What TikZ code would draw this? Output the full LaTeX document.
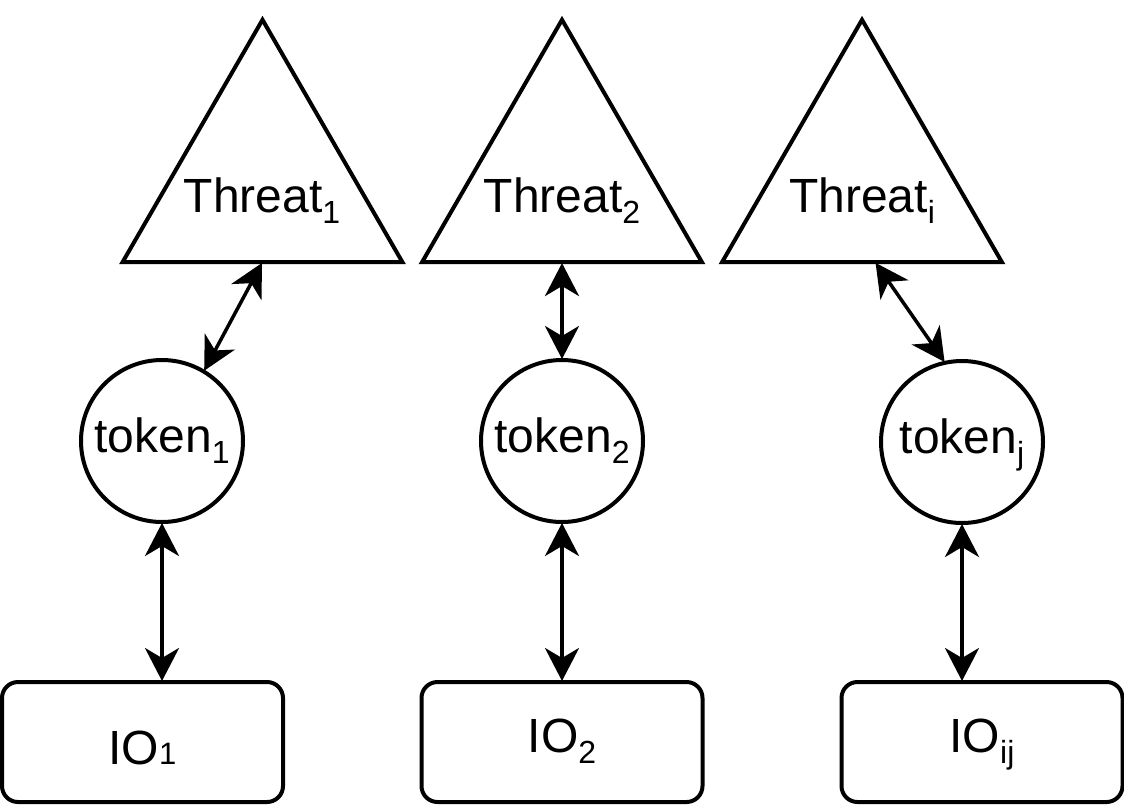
\documentclass[tikz,border=0pt]{standalone}
\usepackage{fontspec}
\setmainfont{Liberation Sans}
\usetikzlibrary{shapes.geometric,arrows.meta}
\newcommand\lowsub[1]{\raisebox{-11pt}{\fontsize{32}{32}\selectfont #1}}
\begin{document}
\begin{tikzpicture}[x=1pt,y=-1pt,line width=4pt,
  threat/.style={draw,regular polygon,regular polygon sides=3,minimum size=323pt,inner sep=0pt,outer sep=0pt},
  tok/.style={draw,circle,minimum size=162pt,inner sep=0pt,outer sep=0pt,text height=34pt,text depth=12pt,font=\fontsize{48}{56}\selectfont},
  iobox/.style={draw,rounded corners=16pt,minimum width=281pt,minimum height=120pt,inner sep=0pt,outer sep=0pt,font=\fontsize{48}{56}\selectfont},
  lbl/.style={font=\fontsize{48}{56}\selectfont,inner sep=0pt,anchor=base},
  tipS/.tip={Stealth[length=33pt,width=34pt,inset=10pt]},
  link/.style={line width=3.5pt,tipS-tipS,shorten <=1pt,shorten >=1pt}]
\useasboundingbox (0,0) rectangle (1124,804);
% threats
\node[threat] (th1) at (262.5,181.3) {};
\node[threat] (th2) at (562,181.3) {};
\node[threat] (th3) at (862,181.3) {};
\node[lbl] (th1l) at (262,212) {Threat\lowsub{1}};
\node[lbl] (th2l) at (562,212) {Threat\lowsub{2}};
\node[lbl] (th3l) at (862,212) {Threat\lowsub{i}};
% tokens
\node[tok] (k1) at (162,441) {token\lowsub{1}};
\node[tok] (k2) at (562,441) {token\lowsub{2}};
\node[tok] (k3) at (962,442) {token\lowsub{j}};
% io boxes
\node[iobox,text height=50pt,text depth=6pt] (io1) at (142.5,742) {IO{\fontsize{31}{31}\selectfont 1}};
\node[iobox,text height=34pt,text depth=14pt] (io2) at (562,742) {IO\lowsub{2}};
\node[iobox,text height=34pt,text depth=14pt] (io3) at (982,742) {IO\lowsub{ij}};
% connectors
\draw[link] (th1.side 2) -- (k1.59);
\draw[link] (th2.side 2) -- (k2.north);
\draw[link] ([xshift=13pt]th3.side 2) -- (k3.102);
\draw[link] (k1.south) -- (k1.south |- io1.north);
\draw[link] (k2.south) -- (k2.south |- io2.north);
\draw[link] (k3.south) -- (k3.south |- io3.north);
\end{tikzpicture}
\end{document}
